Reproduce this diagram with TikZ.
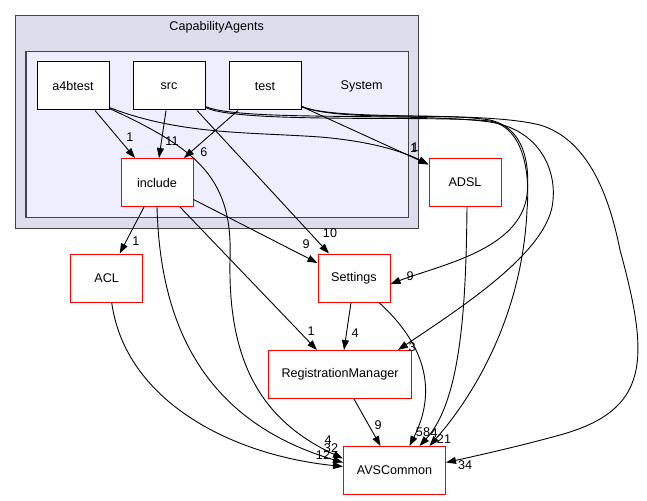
\documentclass[tikz,border=0pt]{standalone}
\usepackage{fontspec}
\setmainfont{Liberation Sans}
\usetikzlibrary{arrows.meta,calc}
\definecolor{clOuter}{HTML}{DDDDEE}
\definecolor{clInner}{HTML}{EEEEFF}
\definecolor{clBorder}{HTML}{444444}
\begin{document}
\begin{tikzpicture}[x=1pt,y=1pt,
  font=\fontsize{12.6}{15}\selectfont,
  dirbox/.style={draw=black, fill=white, line width=1pt, minimum width=72pt, minimum height=48pt, inner sep=0pt},
  redbox/.style={dirbox, draw=red},
  conn/.style={draw=black, line width=0.9pt, -{Triangle[length=10pt,width=7pt]}},
  lbl/.style={inner sep=0pt, fill=none}]
\useasboundingbox (0,0) rectangle (647,-500);
\fill[white] (0,0) rectangle (647,-500);
% clusters
\draw[fill=clOuter, draw=clBorder, line width=1.5pt] (15.7,-15.7) rectangle (418.3,-228.3);
\node[lbl] (capTitle) at (216.7,-27) {CapabilityAgents};
\draw[fill=clInner, draw=clBorder, line width=1.5pt] (26,-51.7) rectangle (408.3,-217.3);
\node[lbl] (sysTitle) at (361.7,-86) {System};
% nodes
\node[dirbox] (a4btest) at (73,-86) {a4btest};
\node[dirbox] (src) at (169,-86) {src};
\node[dirbox] (test) at (265,-86) {test};
\node[redbox] (include) at (157,-182.5) {include};
\node[redbox] (ADSL) at (465,-182.5) {ADSL};
\node[redbox] (ACL) at (106.7,-278) {ACL};
\node[redbox] (Settings) at (354,-278) {Settings};
\node[redbox, minimum width=143pt] (RM) at (340,-374.5) {RegistrationManager};
\node[redbox, minimum width=102pt] (AVS) at (394.5,-470.5) {AVSCommon};
% edges
\draw[conn] ([xshift=22pt]a4btest.south) -- ([xshift=-22pt]include.north) node[lbl] at (130,-137) {1};
\draw[conn] ([xshift=-3pt]src.south) -- ([xshift=2pt]include.north) node[lbl] at (172,-141) {11};
\draw[conn] ([xshift=-27pt]test.south) -- ([xshift=27pt]include.north) node[lbl] at (204,-152) {6};
\draw[conn] ([yshift=3pt]a4btest.south east) .. controls (180,-135) and (250,-132) .. (320,-137)
  .. controls (380,-142) and (410,-155) .. ([yshift=-6.5pt]ADSL.north west) node[lbl] at (413.5,-148) {1};
\draw[conn] ([yshift=4pt]test.south east) -- ([yshift=-6.5pt]ADSL.north west) node[lbl] at (415,-147.5) {1};
\draw[conn] ([yshift=2pt]a4btest.south east) .. controls (200,-150) and (233,-180) .. (230,-260)
  .. controls (228,-360) and (260,-420) .. ([yshift=12pt]AVS.west) node[lbl] at (328,-440) {4};
\draw[conn] ([xshift=28pt]src.south) -- ([xshift=-25pt]Settings.north) node[lbl] at (330,-233) {10};
\draw[conn] ([yshift=4pt]src.south east) .. controls (240,-122) and (420,-112) .. (490,-122)
  .. controls (540,-130) and (556,-170) .. (553,-200)
  .. controls (550,-250) and (465,-305) .. ([xshift=-14pt]RM.north east) node[lbl] at (412,-347) {3};
\draw[conn] ([yshift=3pt]src.south east) .. controls (240,-124) and (430,-115) .. (490,-121)
  .. controls (525,-128) and (530,-175) .. (527,-210)
  .. controls (522,-320) and (470,-400) .. ([xshift=35pt]AVS.north) node[lbl] at (444,-439.5) {21};
\draw[conn] ([yshift=4pt]test.south east) .. controls (340,-122) and (440,-112) .. (490,-120)
  .. controls (525,-128) and (530,-165) .. (527,-195)
  .. controls (520,-250) and (440,-265) .. ([yshift=-6pt]Settings.east) node[lbl] at (410,-276) {9};
\draw[conn] ([yshift=4pt]test.south east) .. controls (340,-122) and (480,-110) .. (540,-125)
  .. controls (590,-140) and (610,-200) .. (620,-250)
  .. controls (650,-360) and (650,-410) .. (560,-435)
  .. controls (520,-446) and (480,-455) .. ([yshift=8pt]AVS.east) node[lbl] at (465,-465) {34};
\draw[conn] ([xshift=-13pt]include.south) -- ([xshift=13pt]ACL.north) node[lbl] at (136,-241) {1};
\draw[conn] ([yshift=-17pt]include.east) -- ([yshift=15pt]Settings.west) node[lbl] at (306,-244) {9};
\draw[conn] ([xshift=23pt]include.south) -- ([xshift=-23pt]RM.north) node[lbl] at (311,-331) {1};
\draw[conn] (include.south) .. controls (160,-320) and (200,-420) .. ([yshift=8pt]AVS.west) node[lbl] at (331,-448) {32};
\draw[conn] ([xshift=5pt]ACL.south) .. controls (125,-400) and (230,-455) .. ([yshift=4pt]AVS.west) node[lbl] at (323,-455) {12};
\draw[conn] ([xshift=2pt]ADSL.south) .. controls (466,-300) and (462,-400) .. ([xshift=25pt]AVS.north) node[lbl] at (434,-433) {4};
\draw[conn] ([xshift=-3pt]Settings.south) -- ([xshift=4pt]RM.north) node[lbl] at (355,-333) {4};
\draw[conn] ([xshift=25pt]Settings.south) .. controls (420,-340) and (440,-385) .. ([xshift=15pt]AVS.north) node[lbl] at (423,-432) {58};
\draw[conn] ([xshift=14pt]RM.south) -- ([xshift=-14pt]AVS.north) node[lbl] at (378,-425) {9};
\end{tikzpicture}
\end{document}
